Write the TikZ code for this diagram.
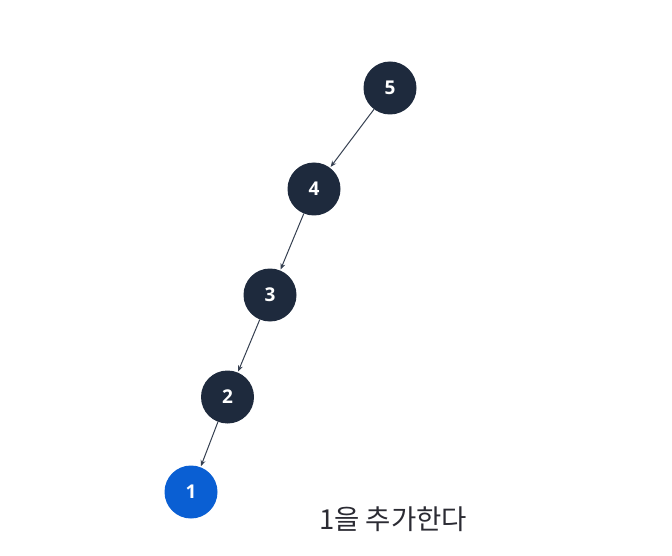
\documentclass[tikz,border=0pt]{standalone}
\usepackage{fontspec}
\setmainfont{Open Sans}
\newfontfamily\krfont{Noto Sans CJK KR}
\usetikzlibrary{arrows.meta}
\definecolor{navy}{HTML}{1E2A3D}
\definecolor{nodeblue}{HTML}{0A5FD3}
\definecolor{txtgray}{HTML}{2B2B33}
\tikzset{
  treenode/.style={circle, fill=navy, minimum size=53pt, inner sep=0pt, text=white, font=\fontsize{19}{21}\selectfont\bfseries},
  newnode/.style={treenode, fill=nodeblue},
  edge/.style={draw=navy!90, line width=1pt, -{Stealth[length=6pt,width=5pt]}, shorten >=1pt},
}
\begin{document}
\begin{tikzpicture}[x=1pt,y=-1pt]
\useasboundingbox (0,0) rectangle (672,556);
\node[treenode] (n5) at (390,88) {5};
\node[treenode] (n4) at (314,189) {4};
\node[treenode] (n3) at (270,295) {3};
\node[treenode] (n2) at (227.5,397) {2};
\node[newnode] (n1) at (191,492) {1};
\draw[edge] (n5) -- (n4);
\draw[edge] (n4) -- (n3);
\draw[edge] (n3) -- (n2);
\draw[edge] (n2) -- (n1);
\node[font=\krfont\fontsize{27.5}{30}\selectfont, text=txtgray] (cap) at (393,519) {1을 추가한다};
\end{tikzpicture}
\end{document}
